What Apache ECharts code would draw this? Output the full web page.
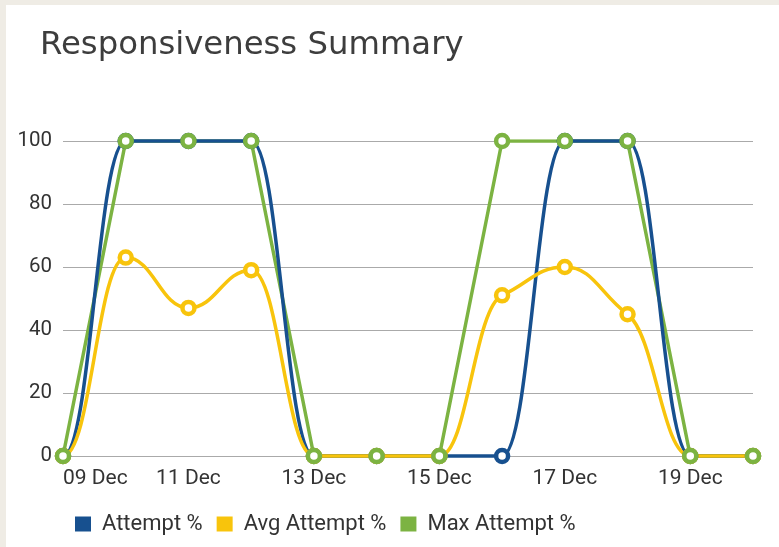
<!DOCTYPE html>
<html>
<head>
<meta charset="utf-8">
<script src="https://cdn.jsdelivr.net/npm/echarts@6/dist/echarts.min.js"></script>
<style>
  html, body { margin: 0; padding: 0; background: #efece5; }
  #main {
    position: absolute;
    left: 6px;
    top: 5px;
    width: 773px;
    height: 542px;
    background: #fff;
  }
</style>
</head>
<body>
<div id="main"></div>
<script>
  var days = ["09 Dec", "10 Dec", "11 Dec", "12 Dec", "13 Dec", "14 Dec",
              "15 Dec", "16 Dec", "17 Dec", "18 Dec", "19 Dec", "20 Dec"];
  var attempt = [0, 100, 100, 100, 0, 0, 0, 0, 100, 100, 0, 0];
  var avgAttempt = [0, 63, 47, 59, 0, 0, 0, 51, 60, 45, 0, 0];
  var maxAttempt = [0, 100, 100, 100, 0, 0, 0, 100, 100, 100, 0, 0];
  var yTicks = [0, 20, 40, 60, 80, 100];

  var BLUE = "#17508f", YELLOW = "#f8c40c", GREEN = "#7cb342";

  var myChart = echarts.init(document.getElementById("main"));

  // tangent at point i (value units per day): flat at ends, peaks and plateaus
  function slope(arr, i) {
    if (i <= 0 || i >= arr.length - 1) return 0;
    var s0 = arr[i] - arr[i - 1], s1 = arr[i + 1] - arr[i];
    if (s0 * s1 <= 0) return 0;
    return (s0 > 0 ? 1 : -1) * Math.min(Math.abs(s0), Math.abs(s1));
  }

  // smooth curve drawn segment by segment through the axis scales
  function curve(arr, color) {
    return {
      type: "custom",
      z: 3,
      silent: true,
      data: arr.map(function (v, i) { return [i, v]; }),
      encode: { x: 0, y: 1 },
      renderItem: function (params, api) {
        var i = params.dataIndex;
        if (i >= arr.length - 1) return null;
        var p0 = api.coord([i, arr[i]]);
        var p1 = api.coord([i + 1, arr[i + 1]]);
        var unit = api.coord([0, 1])[1] - api.coord([0, 0])[1];
        var dx = p1[0] - p0[0];
        var k = 0.45;
        return {
          type: "bezierCurve",
          shape: {
            x1: p0[0], y1: p0[1],
            cpx1: p0[0] + dx * k, cpy1: p0[1] + slope(arr, i) * k * unit,
            cpx2: p1[0] - dx * k, cpy2: p1[1] - slope(arr, i + 1) * k * unit,
            x2: p1[0], y2: p1[1]
          },
          style: { stroke: color, lineWidth: 3.5, fill: null, lineCap: "round" }
        };
      }
    };
  }

  // hollow markers: white fill, thick coloured ring
  function points(name, data, color) {
    return {
      name: name,
      type: "line",
      z: 4,
      data: data,
      symbol: "circle",
      symbolSize: 12,
      lineStyle: { opacity: 0, width: 0 },
      itemStyle: { color: "#fff", borderColor: color, borderWidth: 4.5 },
      emphasis: { disabled: true }
    };
  }

  var option = {
    animation: false,
    title: {
      text: "Responsiveness Summary",
      left: 29,
      top: 20,
      textStyle: {
        fontFamily: "DejaVu Sans",
        fontWeight: "normal",
        fontSize: 32.3,
        color: "#3d3d3d"
      }
    },
    legend: {
      left: 64,
      top: 503,
      itemWidth: 16,
      itemHeight: 15,
      itemGap: 14,
      icon: "rect",
      textStyle: {
        fontFamily: "Roboto",
        fontSize: 22,
        color: "#333",
        padding: [0, 0, 0, 6]
      },
      data: [
        { name: "Attempt %", itemStyle: { color: BLUE, borderWidth: 0 } },
        { name: "Avg Attempt %", itemStyle: { color: YELLOW, borderWidth: 0 } },
        { name: "Max Attempt %", itemStyle: { color: GREEN, borderWidth: 0 } }
      ]
    },
    grid: {
      left: 57,
      right: 26,
      top: 136,
      bottom: 91,
      containLabel: false
    },
    xAxis: {
      type: "category",
      boundaryGap: false,
      data: days,
      axisLine: { show: true, lineStyle: { color: "#aaa", width: 1 } },
      axisTick: { show: false },
      axisLabel: {
        interval: 1,
        margin: 12,
        fontFamily: "Roboto",
        fontSize: 21,
        color: "#333",
        alignMinLabel: "left"
      }
    },
    yAxis: {
      type: "value",
      min: yTicks[0],
      max: yTicks[yTicks.length - 1],
      interval: 20,
      axisLine: { show: false },
      axisTick: { show: false },
      splitLine: { lineStyle: { color: "#aaa", width: 1 } },
      axisLabel: {
        margin: 11,
        fontFamily: "Roboto",
        fontSize: 20.5,
        color: "#333"
      }
    },
    series: [
      // max attempt line sits under the smooth curves
      {
        type: "line",
        z: 2,
        data: maxAttempt,
        showSymbol: false,
        lineStyle: { color: GREEN, width: 3.5 },
        emphasis: { disabled: true }
      },
      curve(attempt, BLUE),
      curve(avgAttempt, YELLOW),
      points("Attempt %", attempt, BLUE),
      points("Avg Attempt %", avgAttempt, YELLOW),
      points("Max Attempt %", maxAttempt, GREEN)
    ]
  };

  myChart.setOption(option);
</script>
</body>
</html>
